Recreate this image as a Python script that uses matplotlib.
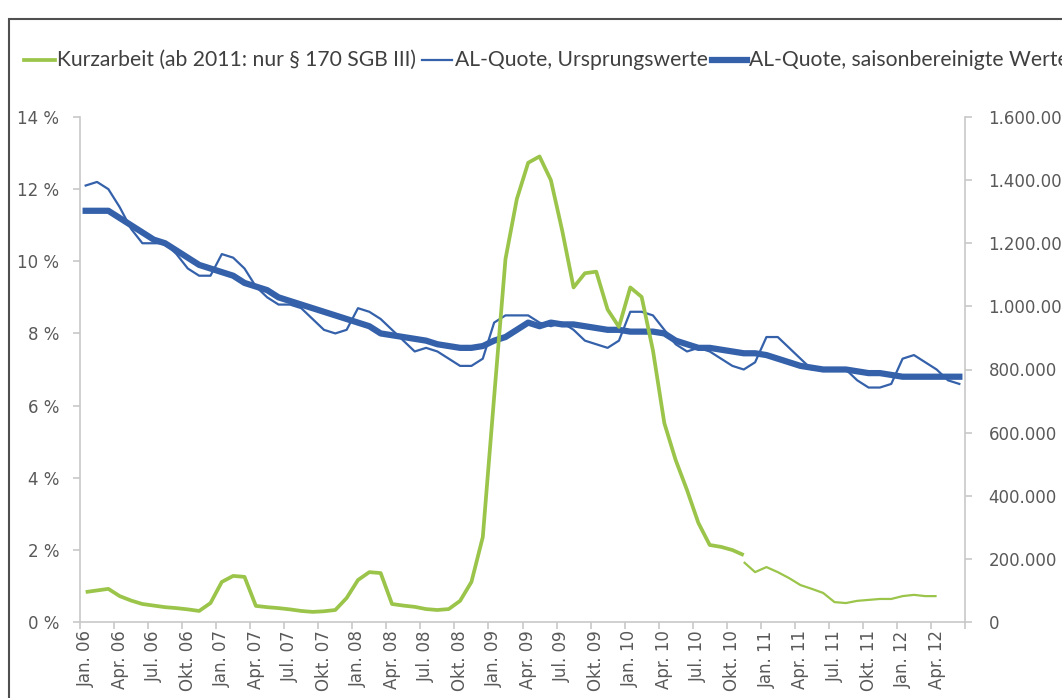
import numpy as np
import matplotlib
matplotlib.use('Agg')
import matplotlib.pyplot as plt
from matplotlib.lines import Line2D
from matplotlib.patches import Rectangle
from matplotlib.ticker import FixedLocator, FuncFormatter

# Monate Jan. 06 bis Jun. 12
jahre = ["06", "07", "08", "09", "10", "11", "12"]
quartale = ["Jan.", "Apr.", "Jul.", "Okt."]
x_labels = [f"{q} {j}" for j in jahre for q in quartale][:26]

# AL-Quote in %, Ursprungswerte
al_quote_ursprung = [
    12.1, 12.2, 12.0, 11.5, 10.9, 10.5, 10.5, 10.5, 10.2, 9.8, 9.6, 9.6,
    10.2, 10.1, 9.8, 9.3, 9.0, 8.8, 8.8, 8.7, 8.4, 8.1, 8.0, 8.1,
    8.7, 8.6, 8.4, 8.1, 7.8, 7.5, 7.6, 7.5, 7.3, 7.1, 7.1, 7.3,
    8.3, 8.5, 8.5, 8.5, 8.3, 8.2, 8.3, 8.1, 7.8, 7.7, 7.6, 7.8,
    8.6, 8.6, 8.5, 8.1, 7.7, 7.5, 7.6, 7.5, 7.3, 7.1, 7.0, 7.2,
    7.9, 7.9, 7.6, 7.3, 7.0, 7.0, 7.0, 7.0, 6.7, 6.5, 6.5, 6.6,
    7.3, 7.4, 7.2, 7.0, 6.7, 6.6,
]

# AL-Quote in %, saisonbereinigt
al_quote_sb = [
    11.4, 11.4, 11.4, 11.2, 11.0, 10.8, 10.6, 10.5, 10.3, 10.1, 9.9, 9.8,
    9.7, 9.6, 9.4, 9.3, 9.2, 9.0, 8.9, 8.8, 8.7, 8.6, 8.5, 8.4,
    8.3, 8.2, 8.0, 7.95, 7.9, 7.85, 7.8, 7.7, 7.65, 7.6, 7.6, 7.65,
    7.8, 7.9, 8.1, 8.3, 8.2, 8.3, 8.25, 8.25, 8.2, 8.15, 8.1, 8.1,
    8.05, 8.05, 8.05, 8.0, 7.8, 7.7, 7.6, 7.6, 7.55, 7.5, 7.45, 7.45,
    7.4, 7.3, 7.2, 7.1, 7.05, 7.0, 7.0, 7.0, 6.95, 6.9, 6.9, 6.85,
    6.8, 6.8, 6.8, 6.8, 6.8, 6.8,
]

# Kurzarbeiter in Tausend, Jan. 06 bis Nov. 10
kurzarbeit = [
    95, 100, 105, 82, 68, 57, 52, 47, 44, 40, 35, 60,
    127, 146, 143, 51, 47, 44, 40, 35, 32, 34, 38, 76,
    133, 158, 155, 57, 52, 48, 41, 38, 41, 67, 127, 269,
    713, 1150, 1340, 1455, 1475, 1400, 1240, 1060, 1105, 1110, 990, 935,
    1060, 1030, 860, 630, 513, 418, 314, 244, 238, 228, 212,
]
# Kurzarbeiter nach § 170 SGB III in Tausend, Nov. 10 bis Apr. 12
kurzarbeit_170 = [190, 158, 174, 158, 139, 117, 105, 92, 63, 60, 67, 70,
                  73, 73, 82, 86, 82, 82]

gruen = '#9BC54A'
blau = '#3461AA'
grau_text = '#595959'
grau_achse = '#C8C8C8'

W, H = 1062, 698
fig = plt.figure(figsize=(W / 100, H / 100), dpi=100)

# Rahmen um das Diagramm
fig.add_artist(Rectangle((9 / W, -0.1), 1.2, (H - 19) / H + 0.1, transform=fig.transFigure,
                         fill=False, edgecolor='#505050', linewidth=1.5))

ax = fig.add_axes([80 / W, (H - 622) / H, (965 - 80) / W, (622 - 117) / H])
ax2 = ax.twinx()

n = len(al_quote_ursprung)
x = np.arange(n)
ax.plot(x, al_quote_ursprung, color=blau, linewidth=1.6, zorder=2)
ax.plot(x, al_quote_sb, color=blau, linewidth=4.5, zorder=3)
ax2.plot(np.arange(len(kurzarbeit)), kurzarbeit, color=gruen, linewidth=2.7,
         solid_capstyle='butt')
ax2.plot(np.arange(58, 58 + len(kurzarbeit_170)), kurzarbeit_170, color=gruen,
         linewidth=1.6, solid_capstyle='butt')

ax.set_xlim(-0.5, n - 0.5)
ax.set_ylim(0, 14)
ax2.set_ylim(0, 1600)

ax.set_yticks(range(0, 15, 2))
ax.set_yticklabels([f"{v} %" for v in range(0, 15, 2)])
ax2.set_yticks(range(0, 1601, 200))
ax2.yaxis.set_major_formatter(FuncFormatter(lambda v, p: f"{int(v * 1000):,}".replace(",", ".")))

ax.set_xticks(np.arange(0, n, 3))
ax.set_xticklabels(x_labels, rotation=90, ha='center', va='top')
ax.xaxis.set_minor_locator(FixedLocator(np.arange(-0.5, n, 3)))

for a in (ax, ax2):
    for s in a.spines.values():
        s.set_visible(False)
ax.spines['left'].set_visible(True)
ax.spines['bottom'].set_visible(True)
ax2.spines['right'].set_visible(True)
for s in (ax.spines['left'], ax.spines['bottom'], ax2.spines['right']):
    s.set_color(grau_achse)
    s.set_linewidth(1.2)

ax.tick_params(axis='x', which='major', length=0, pad=6, labelsize=12, labelcolor=grau_text)
ax.tick_params(axis='x', which='minor', length=5, color=grau_achse, width=1.2)
ax.tick_params(axis='y', length=5, color=grau_achse, width=1.2, pad=10,
               labelsize=12, labelcolor=grau_text)
ax2.tick_params(axis='y', length=5, color=grau_achse, width=1.2, pad=12,
                labelsize=12, labelcolor=grau_text)

ax2.set_zorder(ax.get_zorder() + 1)
ax.patch.set_visible(False)

# Legende
y_leg = (H - 60) / H
eintraege = [
    (24, 55, 57, gruen, 2.7, "Kurzarbeit (ab 2011: nur § 170 SGB III)"),
    (422, 452, 455, blau, 1.6, "AL-Quote, Ursprungswerte"),
    (712, 747, 749, blau, 4.5, "AL-Quote, saisonbereinigte Werte"),
]
for x0, x1, xt, farbe, lw, text in eintraege:
    fig.add_artist(Line2D([x0 / W, x1 / W], [y_leg, y_leg], transform=fig.transFigure,
                          color=farbe, linewidth=lw))
    fig.text(xt / W, y_leg, text, ha='left', va='center', fontsize=15.2,
             family=['Lato', 'DejaVu Sans'], color='#404040')

fig.savefig('out.png', dpi=100)
